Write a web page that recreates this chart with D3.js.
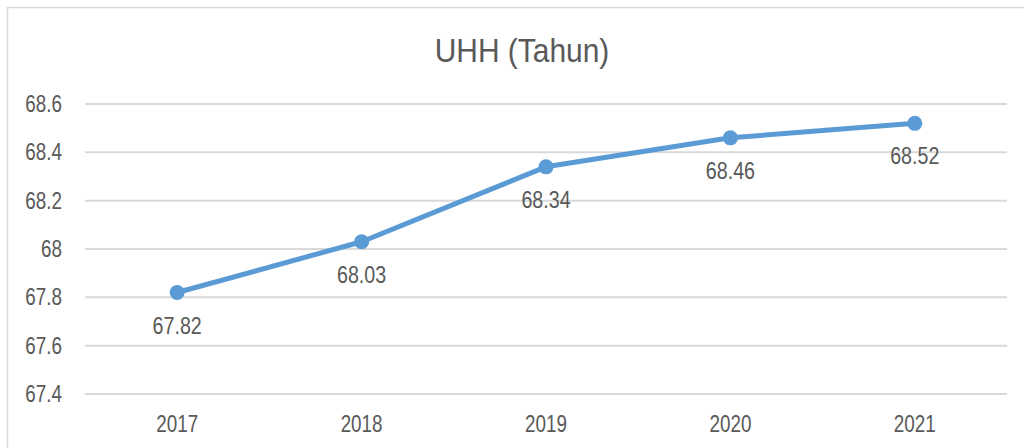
<!DOCTYPE html>
<html>
<head>
<meta charset="utf-8">
<script src="https://cdn.jsdelivr.net/npm/d3@7"></script>
<style>
  body { margin: 0; background: #fff; }
  text { font-family: "Liberation Sans Narrow", "Arial Narrow", "Liberation Sans", Arial, sans-serif; fill: #595959; }
</style>
</head>
<body>
<script>
// data
const years = ["2017", "2018", "2019", "2020", "2021"];
const uhh = [67.82, 68.03, 68.34, 68.46, 68.52];
const yTicks = [67.4, 67.6, 67.8, 68, 68.2, 68.4, 68.6];

// narrow font is not installed, so squeeze Liberation Sans a bit
const narrow = 0.82;

const canvWidth = 1024, canvHeight = 448;
const svg = d3.select("body").append("svg")
    .attr("width", canvWidth)
    .attr("height", canvHeight);

// outer frame (cut off at right and bottom)
svg.append("rect")
    .attr("x", 7.5).attr("y", 7.5)
    .attr("width", 1040).attr("height", 460)
    .attr("fill", "none")
    .attr("stroke", "#d9d9d9")
    .attr("stroke-width", 1.5);

const margin = {top: 104, right: 17, bottom: 54, left: 85};
const width = canvWidth - margin.left - margin.right;
const height = canvHeight - margin.top - margin.bottom;

const g = svg.append("g")
    .attr("transform", "translate(" + margin.left + "," + margin.top + ")");

// title
svg.append("text")
    .attr("transform", "translate(522,62) scale(0.88,1)")
    .attr("font-size", "34px")
    .style("text-anchor", "middle")
    .text("UHH (Tahun)");

const xScale = d3.scaleBand()
    .domain(years)
    .range([0, width]);

const yScale = d3.scaleLinear()
    .domain([67.4, 68.6])
    .range([height, 0]);

// gridlines
g.selectAll("line.grid")
    .data(yTicks)
    .enter().append("line")
    .attr("class", "grid")
    .attr("x1", 0).attr("x2", width)
    .attr("y1", d => yScale(d)).attr("y2", d => yScale(d))
    .attr("stroke", "#d9d9d9")
    .attr("stroke-width", 2);

// y axis labels
const yAxis = d3.axisLeft(yScale).tickValues(yTicks).tickSize(0)
    .tickFormat(d => String(+d.toFixed(1)));
const ya = g.append("g").call(yAxis);
ya.select(".domain").remove();
ya.selectAll("text")
    .attr("x", 0)
    .attr("transform", "translate(-23,0) scale(" + narrow + ",1)")
    .attr("font-size", "23px").attr("fill", "#595959")
    .style("font-family", "'Liberation Sans Narrow', 'Arial Narrow', 'Liberation Sans', sans-serif");

// x axis labels
const xAxis = d3.axisBottom(xScale).tickSize(0);
const xa = g.append("g").attr("transform", "translate(0," + height + ")").call(xAxis);
xa.select(".domain").remove();
xa.selectAll("text")
    .attr("y", 0).attr("dy", null)
    .attr("transform", "translate(0,38) scale(" + narrow + ",1)")
    .attr("font-size", "23px").attr("fill", "#595959")
    .style("font-family", "'Liberation Sans Narrow', 'Arial Narrow', 'Liberation Sans', sans-serif");

const cx = (d, i) => xScale(years[i]) + xScale.bandwidth() / 2;

// line
const line = d3.line()
    .x((d, i) => cx(d, i))
    .y(d => yScale(d));

g.append("path")
    .datum(uhh)
    .attr("d", line)
    .attr("fill", "none")
    .attr("stroke", "#5b9bd5")
    .attr("stroke-width", 5)
    .attr("stroke-linejoin", "round");

g.selectAll("circle")
    .data(uhh)
    .enter().append("circle")
    .attr("cx", cx)
    .attr("cy", d => yScale(d))
    .attr("r", 7.5)
    .attr("fill", "#5b9bd5");

// data labels below points
g.selectAll("text.lbl")
    .data(uhh)
    .enter().append("text")
    .attr("class", "lbl")
    .attr("transform", (d, i) => "translate(" + cx(d, i) + "," + (yScale(d) + 41) + ") scale(" + narrow + ",1)")
    .attr("font-size", "24px")
    .style("text-anchor", "middle")
    .text(d => d.toFixed(2));
</script>
</body>
</html>
